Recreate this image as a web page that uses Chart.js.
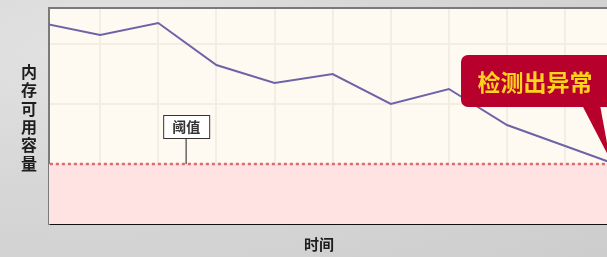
<!DOCTYPE html>
<html>
<head>
<meta charset="utf-8">
<script src="https://cdn.jsdelivr.net/npm/chart.js@4.4.0/dist/chart.umd.min.js"></script>
<style>
  html, body { margin: 0; padding: 0; overflow: hidden; }
  body {
    width: 607px; height: 257px;
    background: radial-gradient(ellipse at 15% 20%, #e2e2e2 0%, #d7d7d7 45%, #cdcdcd 100%);
  }
  #wrap { position: relative; width: 607px; height: 257px; }
</style>
</head>
<body>
<div id="wrap"><canvas id="myChart" width="607" height="257"></canvas></div>
<script>
// 时间轴上的采样点和内存可用容量
let timePoints = [0, 1, 2, 3, 4, 5, 6, 7, 8, 9, 10];
let memory = [67, 63, 67, 53, 47, 50, 40, 45, 33, 26, 19];
let threshold = 20;
let gridValues = [20, 40, 60];
let yTitle = ['内', '存', '可', '用', '容', '量'];
let xTitle = '时间';
let thresholdLabel = '阈值';
let alertLabel = '检测出异常';

let cjk = '"Noto Sans CJK SC", "Noto Sans", sans-serif';

let decorPlugin = {
  id: 'decor',
  beforeDraw: (chart) => {
    let { ctx, chartArea: a } = chart;
    ctx.save();
    ctx.fillStyle = '#fffaf1';
    ctx.fillRect(a.left, a.top, a.right - a.left, a.bottom - a.top);
    ctx.restore();
  },
  afterDraw: (chart) => {
    let { ctx, chartArea: a, scales } = chart;
    let x = scales.x, y = scales.y;
    ctx.save();

    // top border
    ctx.strokeStyle = '#7a7a7a';
    ctx.lineWidth = 2;
    ctx.beginPath();
    ctx.moveTo(a.left, a.top);
    ctx.lineTo(a.right, a.top);
    ctx.stroke();

    // y title, stacked
    ctx.fillStyle = '#1e1e1e';
    ctx.font = 'bold 16px ' + cjk;
    ctx.textAlign = 'center';
    ctx.textBaseline = 'middle';
    yTitle.forEach((ch, i) => {
      ctx.fillText(ch, 29, 72 + i * 18.3);
    });

    // x title
    ctx.font = 'bold 15px ' + cjk;
    ctx.fillText(xTitle, a.left + (a.right - a.left) * 0.484, 244);

    // threshold label with leader
    let ty = y.getPixelForValue(threshold);
    let lx = x.getPixelForValue(2.48);
    ctx.strokeStyle = '#666';
    ctx.lineWidth = 1.5;
    ctx.beginPath();
    ctx.moveTo(lx, ty - 26);
    ctx.lineTo(lx, ty);
    ctx.stroke();
    ctx.fillStyle = '#ffffff';
    ctx.fillRect(lx - 23, ty - 49, 46, 23);
    ctx.strokeStyle = '#333';
    ctx.lineWidth = 1;
    ctx.strokeRect(lx - 23 + 0.5, ty - 49 + 0.5, 46, 23);
    ctx.fillStyle = '#333';
    ctx.font = 'bold 14px ' + cjk;
    ctx.fillText(thresholdLabel, lx, ty - 37);

    // alert callout
    ctx.fillStyle = '#b8002c';
    ctx.beginPath();
    ctx.roundRect(461, 55, 170, 52, 7);
    ctx.fill();
    let last = memory.length - 1;
    let tipY = y.getPixelForValue(memory[last - 1] + (memory[last] - memory[last - 1]) *
      (x.getValueForPixel(a.right) - timePoints[last - 1]));
    ctx.beginPath();
    ctx.moveTo(582, 105);
    ctx.lineTo(600, 105);
    ctx.lineTo(a.right + 3, tipY - 2);
    ctx.closePath();
    ctx.fill();
    ctx.fillStyle = '#ffd21c';
    ctx.font = 'bold 23px ' + cjk;
    ctx.fillText(alertLabel, 535, 82);

    ctx.restore();
  }
};

let ctx = document.getElementById('myChart').getContext('2d');
let myChart = new Chart(ctx, {
  type: 'line',
  data: {
    datasets: [{
      label: 'threshold',
      data: [{ x: -1, y: threshold }, { x: 11, y: threshold }],
      borderColor: '#da6b70',
      borderWidth: 2.5,
      borderDash: [3, 3],
      backgroundColor: '#ffe3e3',
      fill: 'origin',
      pointRadius: 0,
      order: 2
    }, {
      label: 'memory',
      data: timePoints.map((t, i) => ({ x: t, y: memory[i] })),
      borderColor: '#6d64a8',
      borderWidth: 2,
      pointRadius: 0,
      tension: 0,
      fill: false,
      order: 1
    }]
  },
  options: {
    responsive: false,
    animation: false,
    layout: { padding: { left: 49, top: 8, right: 0, bottom: 33 } },
    plugins: {
      legend: { display: false },
      tooltip: { enabled: false }
    },
    scales: {
      x: {
        type: 'linear',
        min: 0.12,
        max: 9.72,
        afterBuildTicks: (scale) => {
          scale.ticks = timePoints.slice(1).map(v => ({ value: v }));
        },
        ticks: { display: false },
        grid: { color: '#f3eee3', lineWidth: 2, drawTicks: false },
        border: { color: '#111', width: 2 }
      },
      y: {
        min: 0,
        max: 72,
        afterBuildTicks: (scale) => {
          scale.ticks = gridValues.map(v => ({ value: v }));
        },
        ticks: { display: false },
        grid: { color: '#f3eee3', lineWidth: 2, drawTicks: false },
        border: { color: '#7a7a7a', width: 2 }
      }
    }
  },
  plugins: [decorPlugin]
});
</script>
</body>
</html>
